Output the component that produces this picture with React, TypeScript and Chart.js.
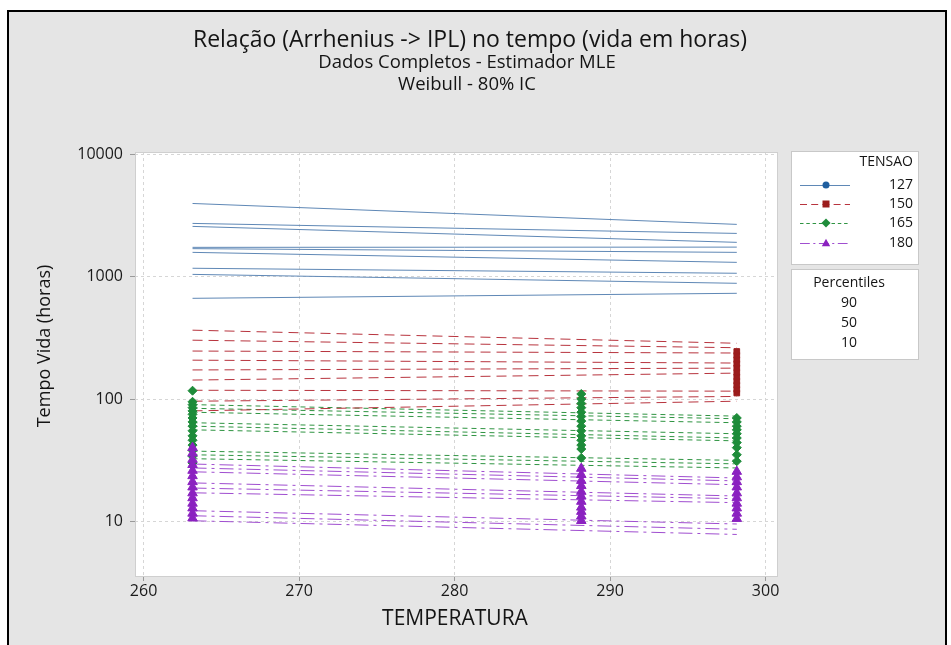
import React, { useEffect, useRef } from 'react';
import { Chart, registerables } from 'chart.js';
Chart.register(...registerables);

const FONT = '"Open Sans", "Noto Sans", sans-serif';

const titleLines = ['Relação (Arrhenius -> IPL) no tempo (vida em horas)', 'Dados Completos - Estimador MLE', 'Weibull - 80% IC'];
const xTitle = 'TEMPERATURA';
const yTitle = 'Tempo Vida (horas)';
const stressLevels = ['127', '150', '165', '180'];
const percentileLabels = ['90', '50', '10'];
const xTicks = [260, 270, 280, 290, 300];
const yTicks = [10, 100, 1000, 10000];

// Percentile lines (90/50/10 with 80% CI bounds): life at 263.15 K and 298.15 K
const lineTemps = [263.15, 298.15];
const life127At263 = [3981, 2735, 2585, 1742, 1700, 1585, 1175, 1047, 667];
const life127At298 = [2685, 2265, 1914, 1750, 1585, 1313, 1069, 885, 733];
const life150At263 = [366, 303, 247, 208, 173, 143, 118, 96, 80];
const life150At298 = [286, 263, 238, 197, 179, 163, 116, 105, 96];
const life165At263 = [90, 84, 78, 64, 60, 56, 37.5, 35, 32.5];
const life165At298 = [72.5, 69, 64, 52, 48, 45.5, 31.5, 29.5, 27.3];
const life180At263 = [29.4, 27.3, 25.4, 20.6, 18.7, 17.1, 12.2, 11.1, 10.1];
const life180At298 = [22.6, 21.4, 19.9, 16.1, 15.3, 14.2, 9.5, 8.6, 7.8];

// Observed failure times
const fail150At298 = [112, 120, 130, 140, 152, 165, 180, 195, 210, 228, 245];
const fail165At263 = [117, 95, 90, 85, 80, 75, 70, 65, 60, 55, 50, 46, 42, 38, 34, 30];
const fail165At288 = [110, 100, 92, 85, 78, 72, 66, 60, 55, 50, 46, 42, 39, 33];
const fail165At298 = [70, 65, 60, 56, 52, 48, 44, 40, 35, 31];
const fail180At263 = [40, 36, 32, 29, 26, 23.5, 21, 19, 17, 15.5, 14, 12.8, 11.6, 10.6];
const fail180At288 = [27, 24, 21.5, 19.5, 17.5, 16, 14.5, 13, 12, 11, 10.1];
const fail180At298 = [25.5, 23, 21, 19, 17, 15.5, 14, 12.8, 11.6, 10.5];

const styles = [
  { line: '#5f88b6', marker: '#1f5f9f', dash: [] as number[], shape: 'circle' },
  { line: '#b8343e', marker: '#9b1c1c', dash: [10, 6], shape: 'rect' },
  { line: '#2f9442', marker: '#1e8c3a', dash: [5, 4], shape: 'rectRot' },
  { line: '#a04ed0', marker: '#8b22c0', dash: [14, 5, 3, 5], shape: 'triangle' },
];

function drawMarker(ctx: CanvasRenderingContext2D, shape: string, x: number, y: number, r: number, color: string) {
  ctx.save();
  ctx.fillStyle = color;
  ctx.setLineDash([]);
  ctx.beginPath();
  if (shape === 'circle') ctx.arc(x, y, r, 0, Math.PI * 2);
  else if (shape === 'rect') ctx.rect(x - r, y - r, 2 * r, 2 * r);
  else if (shape === 'rectRot') { ctx.moveTo(x, y - r * 1.3); ctx.lineTo(x + r * 1.3, y); ctx.lineTo(x, y + r * 1.3); ctx.lineTo(x - r * 1.3, y); ctx.closePath(); }
  else { ctx.moveTo(x, y - r * 1.2); ctx.lineTo(x + r * 1.2, y + r * 0.9); ctx.lineTo(x - r * 1.2, y + r * 0.9); ctx.closePath(); }
  ctx.fill();
  ctx.restore();
}

const framePlugin = {
  id: 'framePlugin',
  beforeDraw(chart: any) {
    const { ctx, chartArea: a } = chart;
    ctx.save();
    ctx.fillStyle = '#ffffff';
    ctx.fillRect(0, 0, chart.width, chart.height);
    ctx.fillStyle = '#e5e5e5';
    ctx.fillRect(8, 11, 938, 640);
    ctx.strokeStyle = '#000000';
    ctx.lineWidth = 2;
    ctx.strokeRect(8, 11, 938, 645);
    ctx.fillStyle = '#ffffff';
    ctx.fillRect(a.left, a.top, a.right - a.left, a.bottom - a.top);
    ctx.restore();
  },
  afterDraw(chart: any) {
    const { ctx, chartArea: a } = chart;
    ctx.save();
    ctx.strokeStyle = '#cfcfcf';
    ctx.lineWidth = 1;
    ctx.strokeRect(a.left + 0.5, a.top + 0.5, a.right - a.left - 1, a.bottom - a.top - 1);

    ctx.fillStyle = '#141414';
    ctx.textAlign = 'center';
    ctx.textBaseline = 'middle';
    ctx.font = `23px ${FONT}`;
    ctx.fillText(titleLines[0], 470, 40);
    ctx.font = `18.5px ${FONT}`;
    ctx.fillText(titleLines[1], 467, 63);
    ctx.fillText(titleLines[2], 467, 85);

    ctx.font = `21px ${FONT}`;
    ctx.fillText(xTitle, 455, 619);
    ctx.save();
    ctx.translate(45, 346);
    ctx.rotate(-Math.PI / 2);
    ctx.font = `18px ${FONT}`;
    ctx.fillText(yTitle, 0, 0);
    ctx.restore();

    // legend boxes
    ctx.fillStyle = '#ffffff';
    ctx.strokeStyle = '#c8c8c8';
    ctx.fillRect(791, 151, 127, 113);
    ctx.strokeRect(791.5, 151.5, 127, 113);
    ctx.fillRect(791, 269, 127, 90);
    ctx.strokeRect(791.5, 269.5, 127, 90);

    ctx.fillStyle = '#141414';
    ctx.font = `14px ${FONT}`;
    ctx.textAlign = 'right';
    ctx.fillText('TENSAO', 913, 162);
    const rows = [185, 204, 223, 243];
    stressLevels.forEach((s, i) => {
      const st = styles[i];
      ctx.textAlign = 'right';
      ctx.fillStyle = '#141414';
      ctx.fillText(s, 913, rows[i]);
      ctx.save();
      ctx.strokeStyle = st.line;
      ctx.lineWidth = 1;
      ctx.setLineDash(st.dash.map((d) => d * 0.7));
      ctx.beginPath();
      ctx.moveTo(800, rows[i] + 0.5);
      ctx.lineTo(850, rows[i] + 0.5);
      ctx.stroke();
      ctx.restore();
      drawMarker(ctx, st.shape, 826, rows[i], 3.5, st.marker);
    });
    ctx.textAlign = 'center';
    ctx.fillStyle = '#141414';
    ctx.fillText('Percentiles', 849, 283);
    const prow = [303, 323, 343];
    percentileLabels.forEach((p, i) => ctx.fillText(p, 849, prow[i]));
    ctx.restore();
  },
};

export default function App() {
  const ref = useRef<HTMLCanvasElement>(null);
  useEffect(() => {
    const starts = [life127At263, life150At263, life165At263, life180At263];
    const ends = [life127At298, life150At298, life165At298, life180At298];
    const datasets: any[] = [];
    starts.forEach((s, k) => {
      s.forEach((v, i) => {
        datasets.push({
          label: `${stressLevels[k]}-${i}`,
          data: [{ x: lineTemps[0], y: v }, { x: lineTemps[1], y: ends[k][i] }],
          showLine: true,
          borderColor: styles[k].line,
          borderWidth: 1,
          borderDash: styles[k].dash,
          pointRadius: 0,
          order: 10,
        });
      });
    });
    const pts = (k: number, t: number, arr: number[], order: number) => ({
      label: `pts-${stressLevels[k]}-${t}`,
      data: arr.map((y) => ({ x: t, y })),
      showLine: false,
      pointStyle: styles[k].shape,
      pointRadius: styles[k].shape === 'triangle' ? 5.5 : styles[k].shape === 'rect' ? 4 : 4.5,
      backgroundColor: styles[k].marker,
      borderColor: styles[k].marker,
      borderWidth: 1,
      order,
    });
    datasets.push(pts(1, 298.15, fail150At298, 3));
    datasets.push(pts(2, 263.15, fail165At263, 2));
    datasets.push(pts(2, 288.15, fail165At288, 2));
    datasets.push(pts(2, 298.15, fail165At298, 2));
    datasets.push(pts(3, 263.15, fail180At263, 1));
    datasets.push(pts(3, 288.15, fail180At288, 1));
    datasets.push(pts(3, 298.15, fail180At298, 1));

    const tickFont = { family: FONT, size: 16 };
    const chart = new Chart(ref.current!, {
      type: 'scatter',
      data: { datasets },
      plugins: [framePlugin],
      options: {
        responsive: false,
        animation: false,
        devicePixelRatio: 1,
        layout: { padding: { left: 30, right: 173, top: 152, bottom: 0 } },
        plugins: { legend: { display: false }, tooltip: { enabled: false }, title: { display: false } },
        scales: {
          x: {
            type: 'linear',
            min: 259.45,
            max: 300.8,
            afterFit: (s: any) => { s.height = 68; },
            afterBuildTicks: (s: any) => { s.ticks = xTicks.map((v) => ({ value: v })); },
            ticks: { font: tickFont, color: '#1a1a1a', padding: 1, callback: (v: any) => String(v) },
            grid: { color: '#d6d6d6', tickColor: '#9a9a9a', tickLength: 4, drawOnChartArea: true },
            border: { display: false, dash: [3, 3] },
          },
          y: {
            type: 'logarithmic',
            min: 3.5,
            max: 10500,
            afterFit: (s: any) => { s.width = 105; },
            afterBuildTicks: (s: any) => { s.ticks = yTicks.map((v) => ({ value: v })); },
            ticks: { font: tickFont, color: '#1a1a1a', padding: 7, callback: (v: any) => String(v) },
            grid: { color: '#d6d6d6', tickColor: '#9a9a9a', tickLength: 5 },
            border: { display: false, dash: [3, 3] },
          },
        },
      },
    });
    return () => chart.destroy();
  }, []);
  return (
    <div style={{ position: 'fixed', left: 0, top: 0, width: 951, height: 645 }}>
      <canvas ref={ref} width={951} height={645} style={{ width: 951, height: 645 }} />
    </div>
  );
}
